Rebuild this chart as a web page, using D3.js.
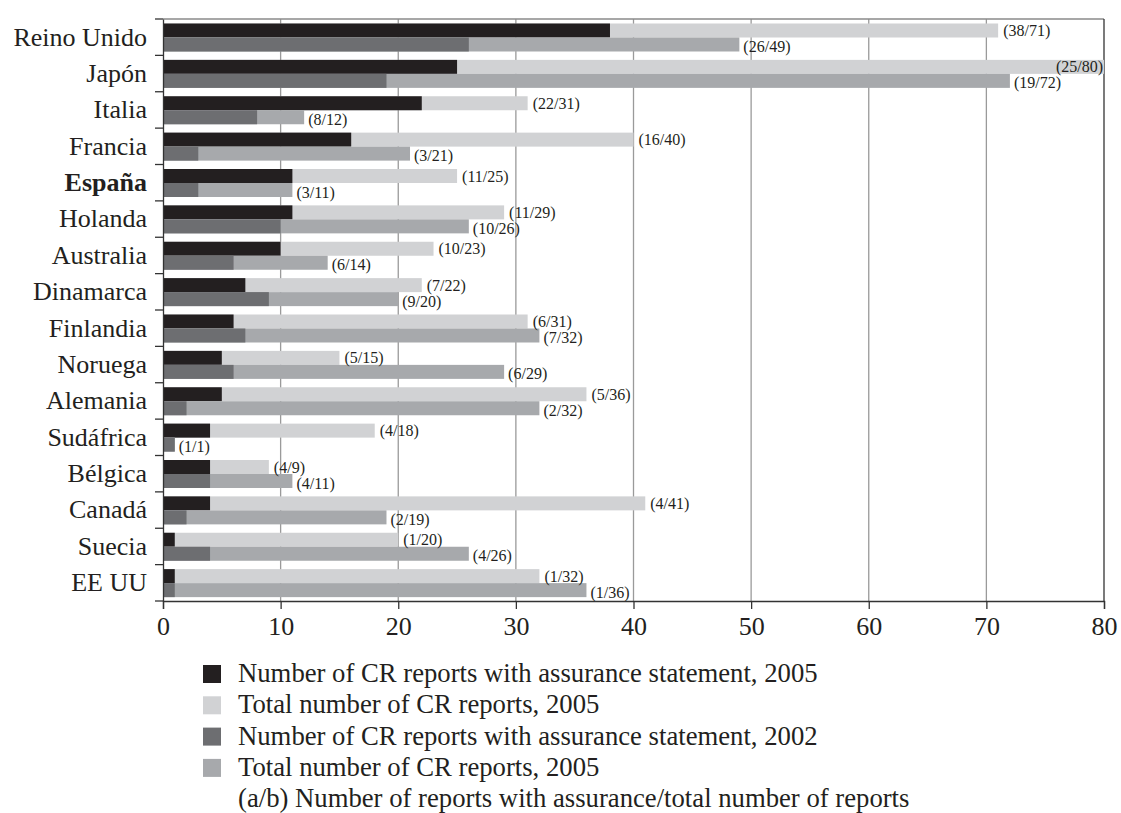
<!DOCTYPE html>
<html>
<head>
<meta charset="utf-8">
<script src="https://cdn.jsdelivr.net/npm/d3@7"></script>
<style>
  body { margin: 0; background: #fff; }
  text { font-family: "Liberation Serif", "Times New Roman", serif; fill: #231f20; }
</style>
</head>
<body>
<svg id="frame" width="1121" height="813"></svg>
<script>
// countries, top to bottom
const countries = ["Reino Unido", "Japón", "Italia", "Francia", "España", "Holanda", "Australia",
  "Dinamarca", "Finlandia", "Noruega", "Alemania", "Sudáfrica", "Bélgica", "Canadá", "Suecia", "EE UU"];

// 2005: reports with assurance / total reports
const assured2005 = [38, 25, 22, 16, 11, 11, 10, 7, 6, 5, 5, 4, 4, 4, 1, 1];
const total2005   = [71, 80, 31, 40, 25, 29, 23, 22, 31, 15, 36, 18, 9, 41, 20, 32];
// 2002
const assured2002 = [26, 19, 8, 3, 3, 10, 6, 9, 7, 6, 2, 1, 4, 2, 4, 1];
const total2002   = [49, 72, 12, 21, 11, 26, 14, 20, 32, 29, 32, 1, 11, 19, 26, 36];

const xTicks = [0, 10, 20, 30, 40, 50, 60, 70, 80];

const legendLabels = [
  "Number of CR reports with assurance statement, 2005",
  "Total number of CR reports, 2005",
  "Number of CR reports with assurance statement, 2002",
  "Total number of CR reports, 2005"
];
const legendNote = "(a/b) Number of reports with assurance/total number of reports";

const colors = { a05: "#231f20", t05: "#d1d2d4", a02: "#6d6e71", t02: "#a7a9ac" };

const plotLeft = 163, plotRight = 1104, plotTop = 19, plotBottom = 601;

const svg = d3.select("#frame");

const x = d3.scaleLinear().domain([0, 80]).range([plotLeft, plotRight]);
const y = d3.scaleBand().domain(countries).range([plotTop, plotBottom]);
const sub = d3.scaleBand().domain(["2005", "2002"]).range([4.5, 32.5]);

const data = countries.map((c, i) => ({
  country: c,
  a05: assured2005[i], t05: total2005[i],
  a02: assured2002[i], t02: total2002[i]
}));

// vertical grid lines
svg.append("g")
  .selectAll("line")
  .data(xTicks.slice(1, -1))
  .join("line")
  .attr("x1", d => x(d)).attr("x2", d => x(d))
  .attr("y1", plotTop).attr("y2", plotBottom)
  .attr("stroke", "#9a9a9a").attr("stroke-width", 1.3);

// frame top / right
svg.append("line").attr("x1", plotLeft).attr("x2", plotRight).attr("y1", plotTop).attr("y2", plotTop)
  .attr("stroke", "#8a8a8a").attr("stroke-width", 1.3);
svg.append("line").attr("x1", plotRight).attr("x2", plotRight).attr("y1", plotTop).attr("y2", plotBottom)
  .attr("stroke", "#333").attr("stroke-width", 1.3);

// bars
const rows = svg.append("g").selectAll("g")
  .data(data)
  .join("g")
  .attr("transform", d => `translate(0, ${y(d.country)})`);

function bar(sel, key, series) {
  sel.append("rect")
    .attr("x", x(0))
    .attr("y", sub(series))
    .attr("width", d => x(d[key]) - x(0))
    .attr("height", sub.bandwidth())
    .attr("fill", colors[key]);
}
bar(rows, "t05", "2005");
bar(rows, "a05", "2005");
bar(rows, "t02", "2002");
bar(rows, "a02", "2002");

// (a/b) labels
function label(sel, a, t, dy, dx) {
  sel.append("text")
    .attr("font-size", 16)
    .attr("y", dy)
    .text(d => `(${d[a]}/${d[t]})`)
    .each(function (d) {
      const w = this.getComputedTextLength();
      let px = x(Math.max(d[t], d[a])) + dx;
      if (px + w > plotRight) px = plotRight - w - 1;
      d3.select(this).attr("x", px);
    });
}
label(rows, "a05", "t05", 17, 5);
label(rows, "a02", "t02", 33, 4);

// axes
const xAxis = svg.append("g")
  .attr("transform", `translate(0, ${plotBottom})`)
  .call(d3.axisBottom(x).tickValues(xTicks).tickSize(8).tickPadding(8).tickFormat(d3.format("d")));
xAxis.select(".domain").attr("stroke", "#333").attr("stroke-width", 1.3);
xAxis.selectAll(".tick line").attr("stroke", "#333").attr("stroke-width", 1.3);
xAxis.selectAll(".tick text").attr("font-size", 26).attr("font-family", "Liberation Serif").attr("fill", "#231f20");

const yAxis = svg.append("g")
  .attr("transform", `translate(${plotLeft}, 0)`)
  .call(d3.axisLeft(y).tickSize(0).tickPadding(16));
yAxis.select(".domain").attr("stroke", "#333").attr("stroke-width", 1.3);
yAxis.selectAll(".tick text")
  .attr("font-size", 26).attr("font-family", "Liberation Serif").attr("fill", "#231f20")
  .attr("font-weight", d => d === "España" ? "bold" : "normal");

// y ticks at band boundaries
svg.append("g")
  .selectAll("line")
  .data(countries.map(c => y(c)).concat([plotBottom]))
  .join("line")
  .attr("x1", plotLeft - 8).attr("x2", plotLeft)
  .attr("y1", d => d).attr("y2", d => d)
  .attr("stroke", "#333").attr("stroke-width", 1.3);

// legend
const legend = svg.append("g").attr("transform", "translate(203, 665)");
const keys = ["a05", "t05", "a02", "t02"];
const lg = legend.selectAll("g")
  .data(legendLabels)
  .join("g")
  .attr("transform", (d, i) => `translate(0, ${i * 31.3})`);
lg.append("rect")
  .attr("width", 18).attr("height", 18)
  .attr("fill", (d, i) => colors[keys[i]]);
lg.append("text")
  .attr("x", 35).attr("y", 17)
  .attr("font-size", 26.7)
  .text(d => d);
legend.append("text")
  .attr("x", 35).attr("y", 17 + 4 * 31.3)
  .attr("font-size", 26.7)
  .text(legendNote);
</script>
</body>
</html>
